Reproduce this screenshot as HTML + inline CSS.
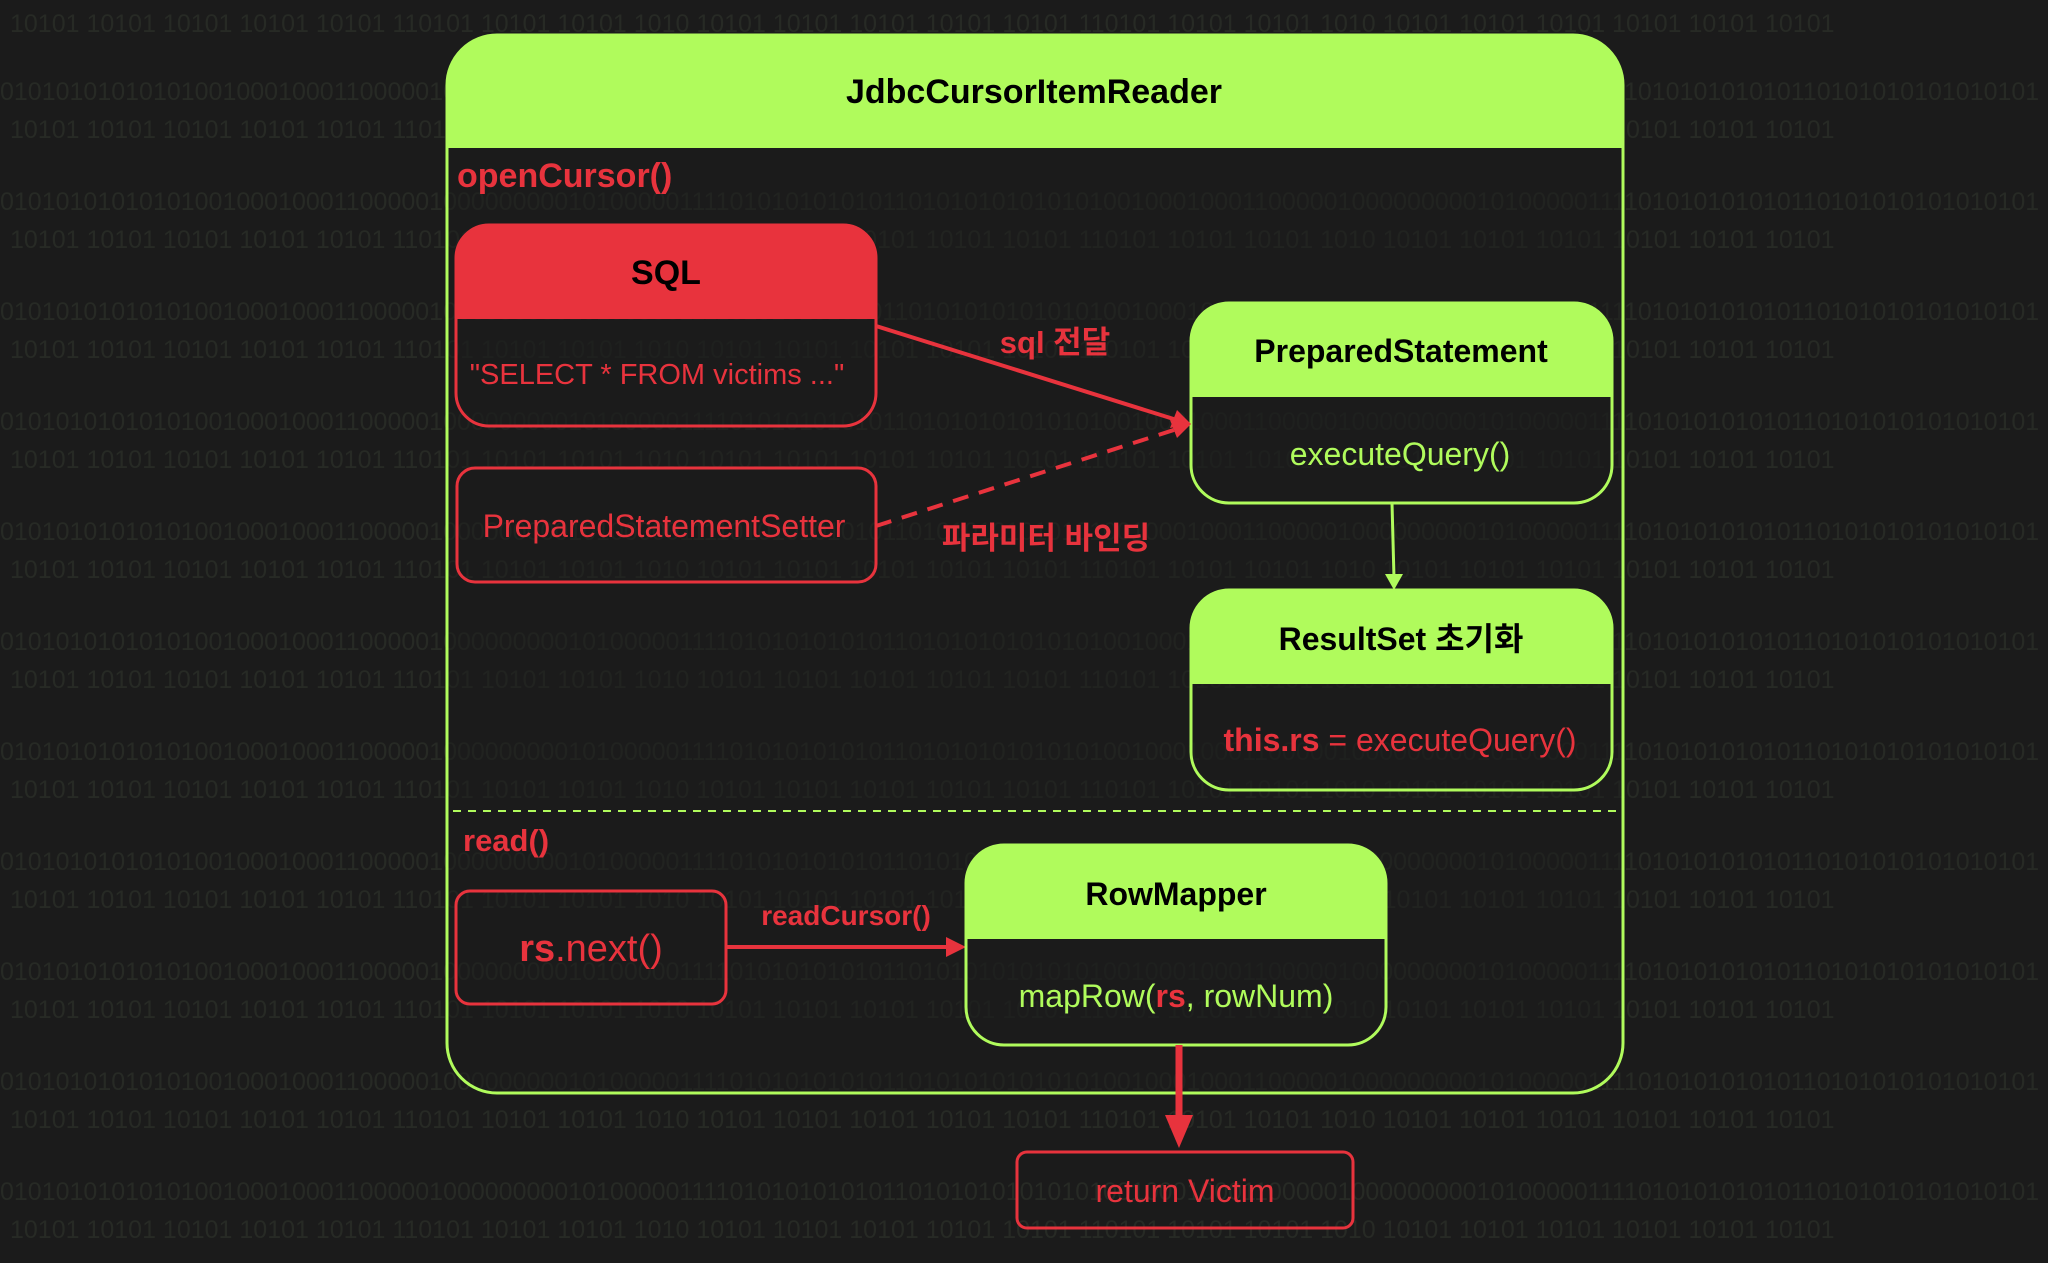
<!DOCTYPE html>
<html><head><meta charset="utf-8"><style>
html,body{margin:0;padding:0;background:#1b1b1b;}
body{width:2048px;height:1263px;overflow:hidden;position:relative;}
svg{position:absolute;left:0;top:0;}
text{font-family:"Liberation Sans","Noto Sans CJK KR",sans-serif;}
.bg{font-family:"Liberation Mono","DejaVu Sans Mono",monospace;fill:#272a25;font-size:25px;}
</style></head><body>
<svg width="2048" height="1263" viewBox="0 0 2048 1263">
<rect width="2048" height="1263" fill="#1b1b1b"/>
<g class="bg">
<text x="10" y="32">10101 10101 10101 10101 10101 110101 10101 10101 1010 10101 10101 10101 10101 10101 110101 10101 10101 1010 10101 10101 10101 10101 10101 10101</text>
<text x="0" y="100">0101010101010100100010001100000100000000010100000111101010101010110101010101010100100010001100000100000000010100000111101010101010110101010101010101</text>
<text x="10" y="138">10101 10101 10101 10101 10101 110101 10101 10101 1010 10101 10101 10101 10101 10101 110101 10101 10101 1010 10101 10101 10101 10101 10101 10101</text>
<text x="0" y="210">0101010101010100100010001100000100000000010100000111101010101010110101010101010100100010001100000100000000010100000111101010101010110101010101010101</text>
<text x="10" y="248">10101 10101 10101 10101 10101 110101 10101 10101 1010 10101 10101 10101 10101 10101 110101 10101 10101 1010 10101 10101 10101 10101 10101 10101</text>
<text x="0" y="320">0101010101010100100010001100000100000000010100000111101010101010110101010101010100100010001100000100000000010100000111101010101010110101010101010101</text>
<text x="10" y="358">10101 10101 10101 10101 10101 110101 10101 10101 1010 10101 10101 10101 10101 10101 110101 10101 10101 1010 10101 10101 10101 10101 10101 10101</text>
<text x="0" y="430">0101010101010100100010001100000100000000010100000111101010101010110101010101010100100010001100000100000000010100000111101010101010110101010101010101</text>
<text x="10" y="468">10101 10101 10101 10101 10101 110101 10101 10101 1010 10101 10101 10101 10101 10101 110101 10101 10101 1010 10101 10101 10101 10101 10101 10101</text>
<text x="0" y="540">0101010101010100100010001100000100000000010100000111101010101010110101010101010100100010001100000100000000010100000111101010101010110101010101010101</text>
<text x="10" y="578">10101 10101 10101 10101 10101 110101 10101 10101 1010 10101 10101 10101 10101 10101 110101 10101 10101 1010 10101 10101 10101 10101 10101 10101</text>
<text x="0" y="650">0101010101010100100010001100000100000000010100000111101010101010110101010101010100100010001100000100000000010100000111101010101010110101010101010101</text>
<text x="10" y="688">10101 10101 10101 10101 10101 110101 10101 10101 1010 10101 10101 10101 10101 10101 110101 10101 10101 1010 10101 10101 10101 10101 10101 10101</text>
<text x="0" y="760">0101010101010100100010001100000100000000010100000111101010101010110101010101010100100010001100000100000000010100000111101010101010110101010101010101</text>
<text x="10" y="798">10101 10101 10101 10101 10101 110101 10101 10101 1010 10101 10101 10101 10101 10101 110101 10101 10101 1010 10101 10101 10101 10101 10101 10101</text>
<text x="0" y="870">0101010101010100100010001100000100000000010100000111101010101010110101010101010100100010001100000100000000010100000111101010101010110101010101010101</text>
<text x="10" y="908">10101 10101 10101 10101 10101 110101 10101 10101 1010 10101 10101 10101 10101 10101 110101 10101 10101 1010 10101 10101 10101 10101 10101 10101</text>
<text x="0" y="980">0101010101010100100010001100000100000000010100000111101010101010110101010101010100100010001100000100000000010100000111101010101010110101010101010101</text>
<text x="10" y="1018">10101 10101 10101 10101 10101 110101 10101 10101 1010 10101 10101 10101 10101 10101 110101 10101 10101 1010 10101 10101 10101 10101 10101 10101</text>
<text x="0" y="1090">0101010101010100100010001100000100000000010100000111101010101010110101010101010100100010001100000100000000010100000111101010101010110101010101010101</text>
<text x="10" y="1128">10101 10101 10101 10101 10101 110101 10101 10101 1010 10101 10101 10101 10101 10101 110101 10101 10101 1010 10101 10101 10101 10101 10101 10101</text>
<text x="0" y="1200">0101010101010100100010001100000100000000010100000111101010101010110101010101010100100010001100000100000000010100000111101010101010110101010101010101</text>
<text x="10" y="1238">10101 10101 10101 10101 10101 110101 10101 10101 1010 10101 10101 10101 10101 10101 110101 10101 10101 1010 10101 10101 10101 10101 10101 10101</text>
</g>

<rect x="447" y="35" width="1176" height="1058" rx="50" fill="#1b1b1b" fill-opacity="0.5" stroke="#b0fb5c" stroke-width="3"/>
<path d="M447 148 V85 A50 50 0 0 1 497 35 H1573 A50 50 0 0 1 1623 85 V148 Z" fill="#b0fb5c"/>
<text x="1034" y="103" text-anchor="middle" font-size="34" font-weight="bold" fill="#000">JdbcCursorItemReader</text>
<text x="457" y="187" font-size="34" font-weight="bold" fill="#e8333d">openCursor()</text>

<rect x="456" y="225" width="420" height="201" rx="33" fill="#1b1b1b" fill-opacity="0.4" stroke="#e8333d" stroke-width="3"/>
<path d="M456 319 V258 A33 33 0 0 1 489 225 H843 A33 33 0 0 1 876 258 V319 Z" fill="#e8333d"/>
<text x="666" y="284" text-anchor="middle" font-size="34" font-weight="bold" fill="#000">SQL</text>
<text x="657" y="384" text-anchor="middle" font-size="29" fill="#e8333d">"SELECT * FROM victims ..."</text>

<rect x="457" y="468" width="419" height="114" rx="18" fill="none" stroke="#e8333d" stroke-width="3"/>
<text x="664" y="537" text-anchor="middle" font-size="32" fill="#e8333d">PreparedStatementSetter</text>

<rect x="1191" y="303" width="421" height="200" rx="38" fill="#1b1b1b" fill-opacity="0.4" stroke="#b0fb5c" stroke-width="3"/>
<path d="M1191 397 V341 A38 38 0 0 1 1229 303 H1574 A38 38 0 0 1 1612 341 V397 Z" fill="#b0fb5c"/>
<text x="1401" y="362" text-anchor="middle" font-size="32" font-weight="bold" fill="#000">PreparedStatement</text>
<text x="1400" y="465" text-anchor="middle" font-size="32" fill="#b0fb5c">executeQuery()</text>

<rect x="1191" y="590" width="421" height="200" rx="38" fill="#1b1b1b" fill-opacity="0.4" stroke="#b0fb5c" stroke-width="3"/>
<path d="M1191 684 V628 A38 38 0 0 1 1229 590 H1574 A38 38 0 0 1 1612 628 V684 Z" fill="#b0fb5c"/>
<text x="1401" y="650" text-anchor="middle" font-size="32" font-weight="bold" fill="#000">ResultSet 초기화</text>
<text x="1400" y="751" text-anchor="middle" font-size="32" fill="#e8333d"><tspan font-weight="bold">this.rs</tspan> = executeQuery()</text>

<line x1="876" y1="326" x2="1180" y2="421" stroke="#e8333d" stroke-width="4"/>
<polygon points="1191,424 1170,428 1177,410" fill="#e8333d"/>
<text x="1055" y="353" text-anchor="middle" font-size="31" font-weight="bold" fill="#e8333d">sql 전달</text>
<line x1="876" y1="526" x2="1180" y2="428" stroke="#e8333d" stroke-width="4" stroke-dasharray="16,11"/>
<polygon points="1191,424 1177,438 1170,420" fill="#e8333d"/>
<text x="1046" y="549" text-anchor="middle" font-size="31" font-weight="bold" fill="#e8333d">파라미터 바인딩</text>
<line x1="1392" y1="503" x2="1394" y2="578" stroke="#b0fb5c" stroke-width="3"/>
<polygon points="1394,590 1385,574 1403,574" fill="#b0fb5c"/>

<line x1="453" y1="811" x2="1623" y2="811" stroke="#b0fb5c" stroke-width="2" stroke-dasharray="8,7"/>
<text x="463" y="851" font-size="31" font-weight="bold" fill="#e8333d">read()</text>

<rect x="456" y="891" width="270" height="113" rx="14" fill="none" stroke="#e8333d" stroke-width="3"/>
<text x="591" y="961" text-anchor="middle" font-size="38" fill="#e8333d"><tspan font-weight="bold">rs</tspan>.next()</text>

<line x1="726" y1="947" x2="952" y2="947" stroke="#e8333d" stroke-width="4"/>
<polygon points="966,947 946,937 946,957" fill="#e8333d"/>
<text x="846" y="925" text-anchor="middle" font-size="28" font-weight="bold" fill="#e8333d">readCursor()</text>

<rect x="966" y="845" width="420" height="200" rx="38" fill="#1b1b1b" fill-opacity="0.4" stroke="#b0fb5c" stroke-width="3"/>
<path d="M966 939 V883 A38 38 0 0 1 1004 845 H1348 A38 38 0 0 1 1386 883 V939 Z" fill="#b0fb5c"/>
<text x="1176" y="905" text-anchor="middle" font-size="32" font-weight="bold" fill="#000">RowMapper</text>
<text x="1176" y="1007" text-anchor="middle" font-size="32" fill="#b0fb5c">mapRow(<tspan fill="#e8333d" font-weight="bold">rs</tspan>, rowNum)</text>

<line x1="1179" y1="1045" x2="1179" y2="1125" stroke="#e8333d" stroke-width="7"/>
<polygon points="1179,1148 1165,1115 1193,1115" fill="#e8333d"/>

<rect x="1017" y="1152" width="336" height="76" rx="10" fill="none" stroke="#e8333d" stroke-width="3"/>
<text x="1185" y="1202" text-anchor="middle" font-size="32" fill="#e8333d">return Victim</text>
</svg>
</body></html>
